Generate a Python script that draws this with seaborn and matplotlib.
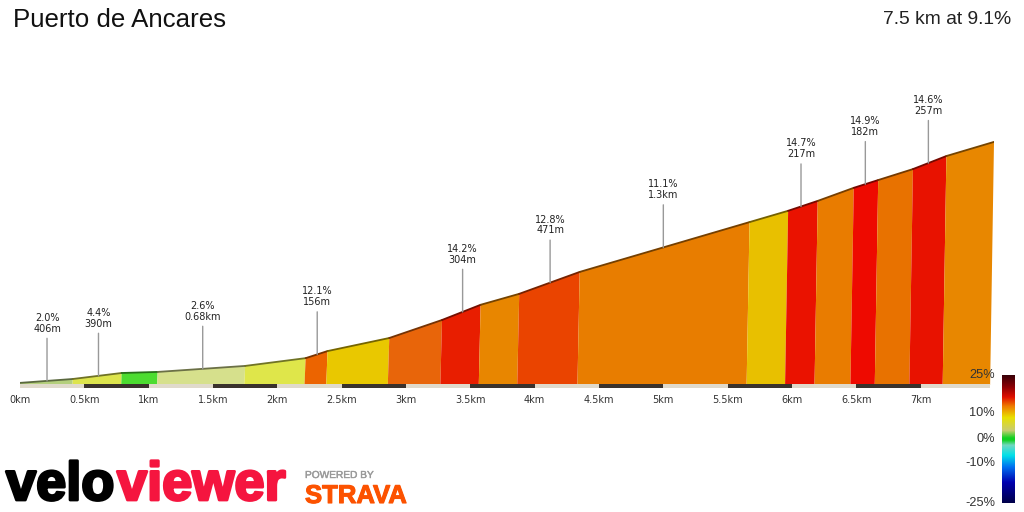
import numpy as np
import matplotlib
matplotlib.use("Agg")
import matplotlib.pyplot as plt
import matplotlib.patheffects as pe
from matplotlib.colors import LinearSegmentedColormap, to_rgb
import seaborn as sns

# =========================
# Data
# =========================
title = "Puerto de Ancares"
summary = "7.5 km at 9.1%"

seg_km = [0.0, 0.41, 0.79, 1.07, 1.75, 2.22, 2.39, 2.87, 3.28, 3.58, 3.88, 4.35,
          5.67, 5.97, 6.20, 6.48, 6.67, 6.94, 7.20, 7.57]
seg_elev = [6, 17, 34, 37, 54, 76, 96, 133, 184, 227, 258, 320,
            461, 493, 521, 558, 580, 611, 648, 688]
seg_colors = ["#b4cf7c", "#dde44c", "#4cdc30", "#d6e08c", "#dfe64a", "#ec6400",
              "#e9c800", "#e8650a", "#e81e00", "#e88600", "#ea4400", "#e87d00",
              "#e8c000", "#ea1200", "#e97c00", "#ee0a00", "#e87200", "#e81200",
              "#e88700"]

climb_km = [0.21, 0.61, 1.42, 2.31, 3.44, 4.12, 5.0, 6.07, 6.57, 7.06]
climb_labels = ["2.0%\n406m", "4.4%\n390m", "2.6%\n0.68km", "12.1%\n156m", "14.2%\n304m",
                "12.8%\n471m", "11.1%\n1.3km", "14.7%\n217m", "14.9%\n182m", "14.6%\n257m"]

tick_km = [0, 0.5, 1, 1.5, 2, 2.5, 3, 3.5, 4, 4.5, 5, 5.5, 6, 6.5, 7]
tick_labels = ["0km", "0.5km", "1km", "1.5km", "2km", "2.5km", "3km", "3.5km",
               "4km", "4.5km", "5km", "5.5km", "6km", "6.5km", "7km"]

cbar_labels = ["25%", "10%", "0%", "-10%", "-25%"]
cbar_label_rows = [0, 38, 63, 88, 127]
cbar_stops = [0.0, 0.09, 0.17, 0.24, 0.33, 0.43, 0.49, 0.51, 0.55, 0.63, 0.72, 0.84, 1.0]
cbar_colors = ["#3a0008", "#8c0005", "#e01000", "#ee7a00", "#e8e000", "#c8cc70", "#10d020",
               "#10d020", "#70d8c0", "#00e0e8", "#0070f0", "#0000b0", "#00004a"]

# =========================
# Figure
# =========================
W, H = 1024, 512
sns.set_theme(style="white")
plt.rcParams["font.family"] = ["Liberation Sans", "DejaVu Sans"]

fig = plt.figure(figsize=(W / 100, H / 100), dpi=100, facecolor="white")
ax = fig.add_axes([20 / W, (H - 388) / H, 974 / W, 388 / H])

m_per_px = 2.83
base_skew = 0.996
ax.set_xlim(0, 7.57)
ax.set_ylim(-3 * m_per_px, 385 * m_per_px)

# coloured gradient blocks, slightly sheared like the original pseudo 3D
for i, col in enumerate(seg_colors):
    x0, x1 = seg_km[i], seg_km[i + 1]
    y0, y1 = seg_elev[i], seg_elev[i + 1]
    ax.fill([x0 * base_skew, x1 * base_skew, x1, x0], [0, 0, y1, y0], color=col, lw=0)
    dark = tuple(c * 0.5 for c in to_rgb(col))
    sns.lineplot(x=[x0, x1], y=[y0, y1], color=dark, lw=1.3, ax=ax, errorbar=None,
                 solid_capstyle="round")

# alternating distance strip along the road
for i in range(15):
    x0 = i * 0.5
    x1 = 7.57 * base_skew if i == 14 else x0 + 0.5
    ax.fill_between([x0, x1], -2.5 * m_per_px, 1 * m_per_px,
                    color="#3a322c" if i % 2 else "#e0dacb", lw=0)

# climb labels
for km, label in zip(climb_km, climb_labels):
    ax.annotate(label, xy=(km, np.interp(km, seg_km, seg_elev)), xytext=(0, 34),
                textcoords="offset points", ha="center", va="bottom", fontsize=7,
                family="DejaVu Sans", color="#222222", linespacing=1.1,
                arrowprops=dict(arrowstyle="-", color="#999999", lw=1, shrinkA=1, shrinkB=0))

ax.set_xticks(tick_km)
ax.set_xticklabels(tick_labels, family="DejaVu Sans", fontsize=7, color="#333333")
ax.tick_params(axis="x", length=0, pad=5)
ax.set_yticks([])
sns.despine(ax=ax, left=True, bottom=True)
ax.patch.set_alpha(0)

# titles
fig.text(13 / W, 1 - 20 / H, title, fontsize=18.6, color="#111111", va="center", ha="left")
fig.text(1011 / W, 1 - 19 / H, summary, fontsize=13.9, color="#222222", va="center", ha="right")

# gradient key
cax = fig.add_axes([1002 / W, (H - 503) / H, 13 / W, 128 / H])
cmap = LinearSegmentedColormap.from_list("grade", list(zip(cbar_stops, cbar_colors)))
sns.heatmap(np.linspace(0, 1, 128).reshape(-1, 1), cmap=cmap, cbar=False, ax=cax,
            xticklabels=False, vmin=0, vmax=1)
cax.set_yticks([r + 0.5 for r in cbar_label_rows])
cax.set_yticklabels(cbar_labels, rotation=0, fontsize=9.2, color="#333333")
cax.tick_params(axis="y", length=0, pad=5)

# logos
fig.text(6 / W, 1 - 500 / H, "velo", fontsize=39, fontweight="bold", color="#000000",
         path_effects=[pe.withStroke(linewidth=2, foreground="#000000")])
fig.text(117 / W, 1 - 500 / H, "viewer", fontsize=39, fontweight="bold", color="#f5153f",
         path_effects=[pe.withStroke(linewidth=2, foreground="#f5153f")])
fig.text(305 / W, 1 - 478 / H, "POWERED BY", fontsize=7.3, color="#9a9a9a",
         path_effects=[pe.withStroke(linewidth=0.3, foreground="#9a9a9a")])
fig.text(305 / W, 1 - 503 / H, "STRAVA", fontsize=18.5, fontweight="bold", color="#fc5200",
         path_effects=[pe.withStroke(linewidth=0.8, foreground="#fc5200")])

fig.savefig("out.png", dpi=100)
